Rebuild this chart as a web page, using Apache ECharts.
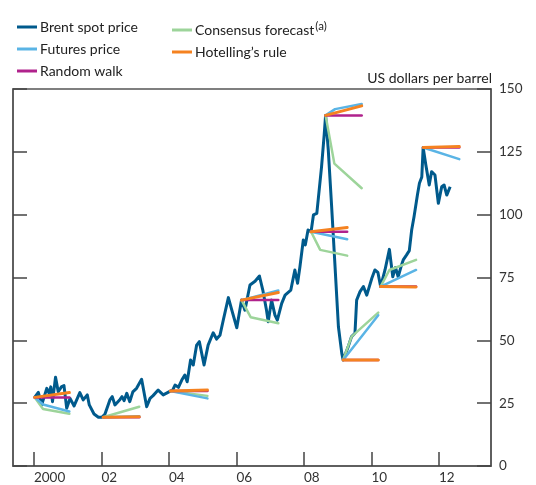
<!DOCTYPE html>
<html>
<head>
<meta charset="utf-8">
<script src="https://cdn.jsdelivr.net/npm/echarts@6/dist/echarts.min.js"></script>
<style>
html, body { margin: 0; padding: 0; background: #fff; }
#chart { width: 536px; height: 485px; }
</style>
</head>
<body>
<div id="chart"></div>
<script>
// Brent spot price (decimal year, $ per barrel)
const brentYears = [2000.02, 2000.13, 2000.23, 2000.38, 2000.45, 2000.5, 2000.55, 2000.64, 2000.72, 2000.82, 2000.89, 2000.97,
  2001.07, 2001.19, 2001.36, 2001.46, 2001.58, 2001.64, 2001.78, 2001.91, 2002.01, 2002.05, 2002.1, 2002.25, 2002.32, 2002.4,
  2002.55, 2002.61, 2002.67, 2002.75, 2002.84, 2002.93, 2003.04, 2003.19, 2003.34, 2003.44, 2003.53, 2003.68, 2003.83, 2003.93,
  2004.04, 2004.11, 2004.18, 2004.28, 2004.38, 2004.47, 2004.54, 2004.64, 2004.72, 2004.82, 2004.9, 2005.04, 2005.16, 2005.31,
  2005.41, 2005.51, 2005.61, 2005.76, 2005.86, 2006.01, 2006.15, 2006.25, 2006.4, 2006.55, 2006.68, 2006.78, 2006.89, 2006.94,
  2007.04, 2007.14, 2007.21, 2007.34, 2007.44, 2007.61, 2007.73, 2007.81, 2007.88, 2007.98, 2008.04, 2008.12, 2008.21, 2008.28,
  2008.38, 2008.44, 2008.52, 2008.6, 2008.64, 2008.72, 2008.82, 2008.92, 2009.02, 2009.12, 2009.16, 2009.31, 2009.41, 2009.51,
  2009.56, 2009.66, 2009.76, 2009.86, 2010.01, 2010.1, 2010.19, 2010.27, 2010.4, 2010.53, 2010.63, 2010.71, 2010.79, 2010.89,
  2010.94, 2011.04, 2011.12, 2011.19, 2011.26, 2011.36, 2011.42, 2011.49, 2011.53, 2011.61, 2011.71, 2011.78, 2011.88, 2011.98,
  2012.08, 2012.15, 2012.23, 2012.33];
const brentPrices = [27.3, 29.3, 24.3, 30.9, 28.9, 31.5, 25.6, 35.3, 29.6, 31.6, 32, 23,
  26.9, 23.9, 29.2, 26.3, 28.3, 24.3, 20.7, 19.4, 19.4, 19.4, 20.5, 26.3, 27.6, 24.3,
  26.5, 27.6, 26, 28.9, 25.6, 29.5, 30.9, 34.5, 23.6, 26.9, 28, 30.2, 28.3, 29,
  29.8, 30.2, 32.2, 31.3, 34.2, 36.2, 33.5, 42.2, 40.2, 48.1, 49.5, 40.2, 48.1, 53,
  50.5, 52, 58.1, 67, 62.1, 55, 66, 62, 72, 73.5, 75.6, 70, 62, 57.4,
  66, 60, 58, 64.7, 68, 70, 78, 72.7, 79.3, 89.9, 88, 93.9, 93.2, 99.9,
  100.5, 108.5, 119, 132, 139.5, 125.7, 103, 79.3, 55.4, 44.8, 42.2, 47.5, 51.5, 52.8,
  66, 69.4, 71.4, 68, 74.7, 78, 77, 71.4, 78, 86.2, 75.3, 79, 75.3, 80,
  82, 84, 85.7, 93.9, 99.2, 107.8, 112.5, 115, 126.7, 119.8, 111.8, 117.1, 115.8, 104.5,
  111.1, 111.8, 107.8, 111.1];

// forecast fans: each segment is a list of [decimal year, price]
const futuresLines = [
  [[2000.02, 27.3], [2000.27, 24.5], [2001.05, 21.7]],
  [[2002.05, 19.4], [2003.12, 19.8]],
  [[2004.04, 29.8], [2005.14, 26.9]],
  [[2006.15, 66], [2007.24, 69.8]],
  [[2008.21, 93.2], [2009.28, 90.2]],
  [[2008.64, 139.5], [2008.92, 142], [2009.71, 144]],
  [[2009.16, 42.2], [2010.2, 60]],
  [[2010.27, 71.4], [2011.32, 78]],
  [[2011.53, 126.7], [2012.6, 122.1]]
];
const randomWalkLines = [
  [[2000.02, 27.3], [2001.05, 27.3]],
  [[2002.05, 19.4], [2003.12, 19.4]],
  [[2004.04, 29.8], [2005.14, 29.8]],
  [[2006.15, 66], [2007.24, 66]],
  [[2008.21, 93.2], [2009.28, 93.2]],
  [[2008.64, 139.5], [2009.71, 139.5]],
  [[2009.16, 42.2], [2010.2, 42.2]],
  [[2010.27, 71.4], [2011.32, 71.4]],
  [[2011.53, 126.7], [2012.6, 126.7]]
];
const consensusLines = [
  [[2000.02, 27.3], [2000.27, 22.7], [2001.05, 20.8]],
  [[2002.05, 19.4], [2003.12, 23.6]],
  [[2004.04, 29.8], [2005.14, 27.9]],
  [[2006.15, 66], [2006.42, 59.2], [2007.24, 56.8]],
  [[2008.21, 93.2], [2008.48, 86], [2009.28, 83.7]],
  [[2008.64, 139.5], [2008.9, 120.3], [2009.71, 110.5]],
  [[2009.16, 42.2], [2009.41, 51.5], [2010.2, 61]],
  [[2010.27, 71.4], [2010.53, 78], [2011.32, 82]]
];
const hotellingLines = [
  [[2000.02, 27.3], [2001.05, 29.2]],
  [[2002.05, 19.4], [2003.12, 19.6]],
  [[2004.04, 29.8], [2005.14, 30.2]],
  [[2006.15, 66], [2007.24, 69]],
  [[2008.21, 93.2], [2009.28, 94.9]],
  [[2008.64, 139.5], [2009.71, 143.3]],
  [[2009.16, 42.2], [2010.2, 42.2]],
  [[2010.27, 71.4], [2011.32, 71.2]],
  [[2011.53, 126.7], [2012.6, 127.1]]
];
const yearTicks = [2000, 2002, 2004, 2006, 2008, 2010, 2012];

const FONT = 'Lato';
const colors = {
  brent: '#005a8c',
  futures: '#5ab4e5',
  walk: '#b0228c',
  consensus: '#9dd49a',
  hotelling: '#f58220'
};

let chart = echarts.init(document.getElementById('chart'), null, { renderer: 'canvas' });

function fanSeries(name, lines, color, width, z) {
  return lines.map(function (seg) {
    return {
      name: name,
      type: 'line',
      data: seg,
      symbol: 'none',
      silent: true,
      z: z,
      lineStyle: { color: color, width: width, cap: 'round' },
      itemStyle: { color: color }
    }
  })
}

let series = [{
  name: 'Brent spot price',
  type: 'line',
  data: brentYears.map(function (y, i) { return [y, brentPrices[i]] }),
  symbol: 'none',
  z: 2,
  lineStyle: { color: colors.brent, width: 3, join: 'round' },
  itemStyle: { color: colors.brent }
}]
series = series
  .concat(fanSeries('Consensus forecast', consensusLines, colors.consensus, 2.5, 3))
  .concat(fanSeries('Futures price', futuresLines, colors.futures, 2.5, 4))
  .concat(fanSeries('Random walk', randomWalkLines, colors.walk, 2.5, 5))
  .concat(fanSeries('Hotelling\u2019s rule', hotellingLines, colors.hotelling, 3, 6))

let legendBase = {
  orient: 'vertical',
  icon: 'rect',
  itemWidth: 20,
  itemHeight: 3,
  itemGap: 8,
  selectedMode: false,
  textStyle: { fontFamily: FONT, fontSize: 14, color: '#222', padding: [0, 0, 0, -2] }
}

let option = {
  animation: false,
  backgroundColor: '#fff',
  legend: [
    Object.assign({}, legendBase, {
      left: 12, top: 15,
      data: ['Brent spot price', 'Futures price', 'Random walk']
    }),
    Object.assign({}, legendBase, {
      left: 167, top: 15,
      data: ['Consensus forecast', 'Hotelling\u2019s rule'],
      formatter: function (name) {
        return name === 'Consensus forecast' ? '{n|' + name + '}{s|(a)}' : name
      },
      textStyle: Object.assign({}, legendBase.textStyle, {
        rich: {
          n: { fontFamily: FONT, fontSize: 14, color: '#222' },
          s: { fontFamily: FONT, fontSize: 11.5, color: '#222', padding: [0, 0, 8, 1] }
        }
      })
    })
  ],
  grid: {
    left: 13, right: 45, top: 89, bottom: 19,
    show: true, borderColor: '#555', borderWidth: 1.5, backgroundColor: 'transparent'
  },
  xAxis: {
    type: 'value',
    min: 1999.38,
    max: 2013.54,
    axisLine: { lineStyle: { color: '#555', width: 1.5 } },
    axisTick: { inside: true, length: 14, customValues: yearTicks, lineStyle: { color: '#444', width: 1.5 } },
    axisLabel: {
      customValues: yearTicks,
      align: 'left',
      verticalAlign: 'top',
      margin: 5,
      fontFamily: FONT, fontSize: 13.5, color: '#333',
      formatter: function (v) {
        return v === 2000 ? '2000' : String(v % 100).padStart(2, '0')
      }
    },
    splitLine: { show: false }
  },
  yAxis: [{
    type: 'value',
    position: 'right',
    min: 0, max: 150, interval: 25,
    name: 'US dollars per barrel',
    nameLocation: 'end',
    nameGap: 4,
    nameTextStyle: { fontFamily: FONT, fontSize: 14, color: '#222', align: 'right', padding: [0, -1, 0, 0] },
    axisLine: { show: true, lineStyle: { color: '#555', width: 1.5 } },
    axisTick: { inside: true, length: 14, lineStyle: { color: '#444', width: 1.5 } },
    axisLabel: { margin: 8, fontFamily: FONT, fontSize: 13.5, color: '#333' },
    splitLine: { show: false }
  }, {
    type: 'value',
    position: 'left',
    min: 0, max: 150, interval: 25,
    axisLine: { show: true, lineStyle: { color: '#555', width: 1.5 } },
    axisTick: { inside: true, length: 14, lineStyle: { color: '#444', width: 1.5 } },
    axisLabel: { show: false },
    splitLine: { show: false }
  }],
  series: series
}

chart.setOption(option)
</script>
</body>
</html>
